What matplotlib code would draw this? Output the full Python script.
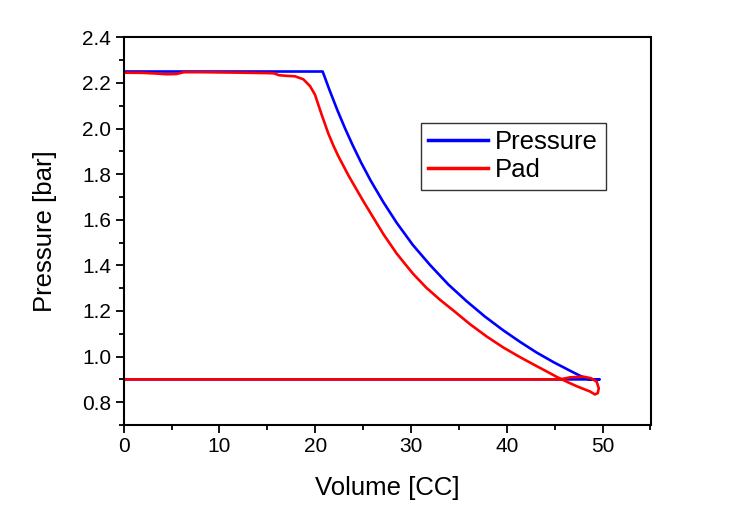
import matplotlib
matplotlib.use("Agg")
import matplotlib.pyplot as plt
from matplotlib.ticker import MultipleLocator, FormatStrFormatter

plt.rcParams['font.family'] = ['Liberation Sans', 'DejaVu Sans']

# Pressure (blue) loop: plateau, decay, return along 0.9 bar
pressure_x = [0, 5, 10, 15, 20, 20.78, 21.5, 22.3, 23.1, 23.9, 24.8, 25.8, 27.1, 28.5,
              30.2, 32.0, 33.9, 35.8, 37.7, 39.6, 41.4, 43.1, 44.9, 46.6, 47.5, 48.2,
              48.7, 49.66, 40, 30, 20, 10, 0]
pressure_y = [2.25, 2.25, 2.25, 2.25, 2.25, 2.25, 2.168, 2.082, 2.002, 1.928, 1.850, 1.771,
              1.678, 1.587, 1.489, 1.401, 1.316, 1.243, 1.176, 1.116, 1.064, 1.018, 0.975,
              0.938, 0.919, 0.905, 0.9, 0.9, 0.9, 0.9, 0.9, 0.9, 0.9]

# Pad (red) loop
pad_x = [0, 2, 3.5, 4.5, 5.5, 6.3, 8, 12, 15, 15.7, 16.2, 17, 17.89, 18.76, 19.46, 19.98,
         20.32, 20.68, 21.0, 21.37, 21.9, 22.4, 23.5, 25.0, 26.1, 27.1, 28.5, 29.4, 30.24,
         31.6, 33.03, 34.6, 36.16, 37.9, 39.63, 41.4, 43.12, 44.2, 45.21, 46.3, 47.3, 48.68,
         49.2, 49.5, 49.6, 49.38, 48.8, 47.98, 46.6, 45.55, 44.5, 35, 25, 15, 5, 0]
pad_y = [2.245, 2.244, 2.241, 2.238, 2.239, 2.247, 2.247, 2.245, 2.243, 2.242, 2.234, 2.231,
         2.229, 2.216, 2.186, 2.148, 2.105, 2.06, 2.022, 1.978, 1.925, 1.880, 1.792, 1.683,
         1.607, 1.538, 1.452, 1.405, 1.362, 1.302, 1.249, 1.196, 1.142, 1.088, 1.04, 0.997,
         0.958, 0.934, 0.911, 0.889, 0.870, 0.847, 0.834, 0.84, 0.861, 0.89, 0.905, 0.912,
         0.909, 0.9, 0.9, 0.9, 0.9, 0.9, 0.9, 0.9]

fig = plt.figure(figsize=(7.38, 5.12), dpi=100)
ax = fig.add_axes([123.6/738, 1-425/512, (650.5-123.6)/738, (425-37.3)/512])

ax.plot(pressure_x, pressure_y, color='#0000ff', lw=1.9, label='Pressure',
        solid_joinstyle='round')
ax.plot(pad_x, pad_y, color='#ff0000', lw=1.9, label='Pad', solid_joinstyle='round')

ax.set_xlim(0, 55)
ax.set_ylim(0.7, 2.4)
ax.xaxis.set_major_locator(MultipleLocator(10))
ax.xaxis.set_minor_locator(MultipleLocator(5))
ax.yaxis.set_major_locator(MultipleLocator(0.2))
ax.yaxis.set_minor_locator(MultipleLocator(0.1))
ax.yaxis.set_major_formatter(FormatStrFormatter('%.1f'))

for s in ax.spines.values():
    s.set_linewidth(1.5)
ax.tick_params(which='major', direction='out', length=6, width=1.3, labelsize=15, pad=3,
               top=False, right=False)
ax.tick_params(which='minor', direction='out', length=3.5, width=1.3, top=False, right=False)

ax.set_xlabel('Volume [CC]', fontsize=18.5, labelpad=14)
ax.set_ylabel('Pressure [bar]', fontsize=18.5, labelpad=18)

leg = ax.legend(loc='upper left', bbox_to_anchor=(0.564, 0.780), borderaxespad=0,
                fontsize=18.5, frameon=True, fancybox=False, edgecolor='black',
                handlelength=2.3, handletextpad=0.3, borderpad=0.3, labelspacing=0.15)
leg.get_frame().set_linewidth(1.0)
for line in leg.get_lines():
    line.set_linewidth(2.5)

fig.savefig('out.png', dpi=100)
